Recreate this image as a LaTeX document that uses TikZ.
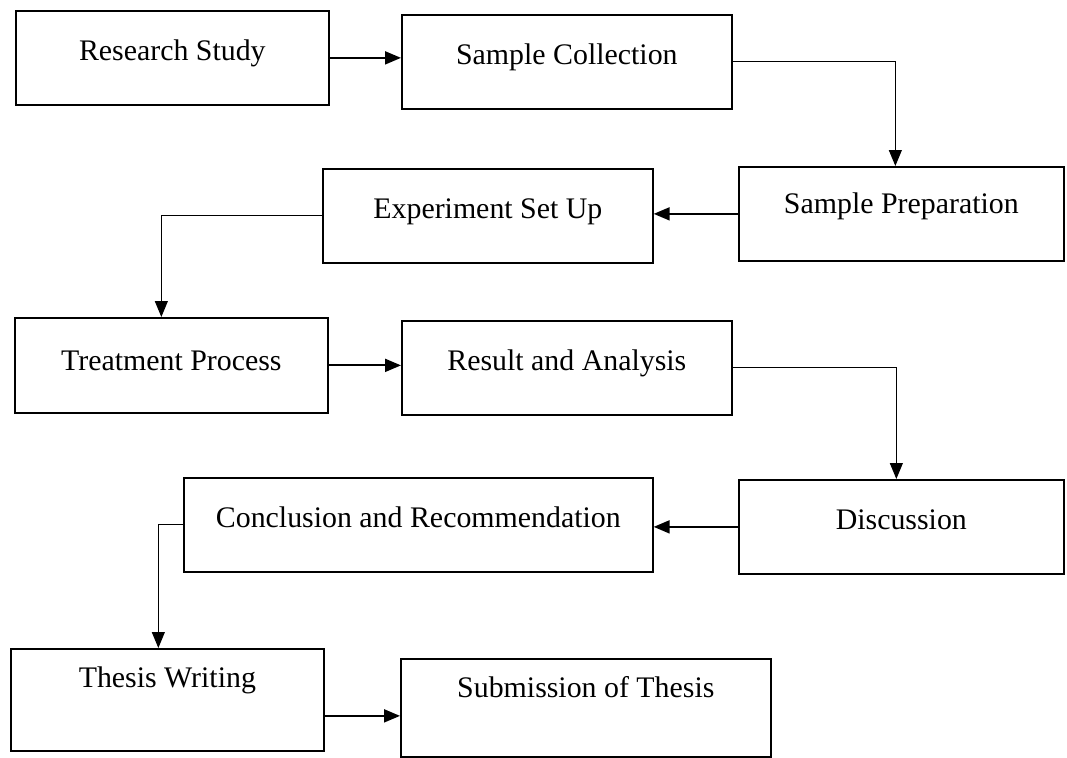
\documentclass[tikz,border=0pt]{standalone}
\usepackage{fontspec}
\setmainfont{Liberation Serif}
\usetikzlibrary{arrows.meta}

\tikzset{
  stage/.style={draw, line width=1pt, inner sep=0pt, anchor=north west,
    font=\fontsize{17}{20}\selectfont, text height=1cm, text depth=0.88cm},
  stagelow/.style={stage, text height=0.77cm},
  arr/.style={-{Triangle[length=3.2mm,width=2.6mm]}, line width=1.1pt},
  elbow/.style={arr, line width=0.6pt}
}

\begin{document}
\begin{tikzpicture}[x=0.02cm, y=-0.02cm]
    \useasboundingbox (0,0) rectangle (1067,757);

    % first row
    \node[stage, minimum width=6.26cm] (rs) at (15,10) {Research Study};
    \node[stage, minimum width=6.6cm] (sc) at (401,14) {Sample Collection};

    % second row
    \node[stage, minimum width=6.5cm, text height=0.94cm, text depth=0.94cm] (sp) at (738,166) {Sample Preparation};
    \node[stage, minimum width=6.6cm] (es) at (322,168) {Experiment Set Up};

    % third row
    \node[stage, minimum width=6.26cm, text height=1.06cm, text depth=0.84cm] (tp) at (14,317) {Treatment Process};
    \node[stage, minimum width=6.6cm] (ra) at (401,320) {Result and Analysis};

    % fourth row
    \node[stage, minimum width=6.5cm] (di) at (738,479) {Discussion};
    \node[stage, minimum width=9.38cm] (cr) at (183,477) {Conclusion and Recommendation};

    % last row
    \node[stagelow, text depth=1.27cm, minimum width=6.26cm] (tw) at (10,648) {Thesis Writing};
    \node[stagelow, text depth=1.19cm, minimum width=7.4cm] (st) at (400,658) {Submission of Thesis};


    \draw[arr] (rs.east) -- (rs.east -| sc.west);
    \draw[elbow] (sc.east) -| ([xshift=-0.12cm]sp.north);
    \draw[arr] (sp.west) -- (sp.west -| es.east);
    \draw[elbow] (es.west) -| ([xshift=-0.2cm]tp.north);
    \draw[arr] (tp.east) -- (tp.east -| ra.west);
    \draw[elbow] (ra.east) -| ([xshift=-0.1cm]di.north);
    \draw[arr] (di.west) -- (di.west -| cr.east);
    \draw[elbow] (cr.west) -| ([xshift=-0.18cm]tw.north);
    \draw[arr] ([yshift=-0.16cm]tw.east |- st.west) -- ([yshift=-0.16cm]st.west);

\end{tikzpicture}
\end{document}
